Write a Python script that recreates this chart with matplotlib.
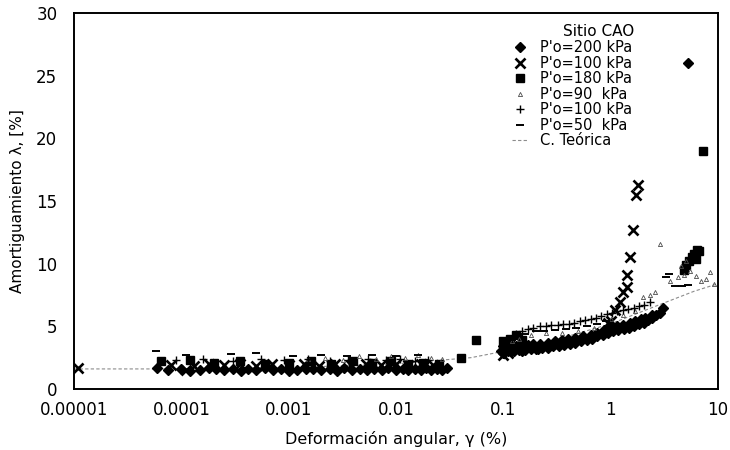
import matplotlib.pyplot as plt
from matplotlib.ticker import NullLocator

plt.rcParams['font.family'] = 'DejaVu Sans'

# Sitio CAO: damping ratio vs. shear strain, several confining pressures
x_200 = [5.9e-5, 7.5e-5, 1.0e-4, 1.2e-4, 1.5e-4, 1.8e-4, 2.1e-4, 2.5e-4, 3.0e-4, 3.6e-4,
         4.2e-4, 5.0e-4, 6.0e-4, 7.2e-4, 8.5e-4, 1.0e-3, 1.2e-3, 1.45e-3, 1.7e-3, 2.0e-3,
         2.4e-3, 2.8e-3, 3.3e-3, 3.9e-3, 4.6e-3, 5.4e-3, 6.3e-3, 7.4e-3, 8.5e-3, 0.01,
         0.0115, 0.013, 0.015, 0.017, 0.019, 0.021, 0.024, 0.027, 0.03,
         0.095, 0.1, 0.11, 0.12, 0.125, 0.14, 0.15, 0.16, 0.18, 0.2, 0.21, 0.23, 0.26,
         0.29, 0.33, 0.37, 0.42, 0.47, 0.53, 0.6, 0.67, 0.75, 0.84, 0.94, 1.05, 1.18,
         1.32, 1.48, 1.65, 1.85, 2.05, 2.25, 2.45, 2.65, 2.85, 3.1,
         0.1, 0.115, 0.13, 0.15, 0.17, 0.19, 0.22, 0.26, 0.3, 0.35, 0.4, 0.47, 0.55, 0.65,
         0.75, 0.87, 1.0, 1.15, 1.3, 1.5, 1.7, 1.9, 2.1, 2.4, 5.3]
y_200 = [1.7, 1.5, 1.6, 1.4, 1.5, 1.7, 1.6, 1.5, 1.6, 1.4,
         1.6, 1.5, 1.7, 1.5, 1.6, 1.4, 1.5, 1.6, 1.6, 1.5,
         1.6, 1.4, 1.7, 1.5, 1.6, 1.5, 1.6, 1.5, 1.7, 1.5,
         1.6, 1.5, 1.6, 1.5, 1.7, 1.5, 1.6, 1.5, 1.7,
         3.0, 2.9, 3.0, 3.0, 3.0, 3.1, 3.0, 3.1, 3.2, 3.2, 3.2, 3.3, 3.3,
         3.4, 3.4, 3.5, 3.6, 3.7, 3.8, 3.9, 4.0, 4.2, 4.3, 4.5, 4.6, 4.7,
         4.8, 4.9, 5.0, 5.2, 5.3, 5.5, 5.7, 5.9, 6.1, 6.5,
         3.4, 3.4, 3.4, 3.5, 3.5, 3.6, 3.6, 3.7, 3.8, 3.9, 4.0, 4.1, 4.2, 4.3,
         4.5, 4.7, 4.9, 5.0, 5.1, 5.3, 5.4, 5.6, 5.7, 5.9, 26.0]

x_100a = [1.1e-5, 8.0e-5, 1.1e-4, 1.3e-4, 1.8e-4, 2.5e-4, 3.5e-4, 5.0e-4, 7.0e-4, 1.0e-3,
          1.4e-3, 1.9e-3, 2.7e-3, 3.8e-3, 5.2e-3, 7.2e-3, 0.01, 0.013, 0.017, 0.022,
          0.1, 0.105, 0.11, 0.95,
          1.01, 1.10, 1.22, 1.31, 1.42, 1.42, 1.52, 1.62, 1.72, 1.80]
y_100a = [1.7, 1.9, 1.5, 1.8, 2.0, 1.9, 2.0, 1.8, 2.0, 1.9,
          2.0, 1.8, 2.0, 1.9, 2.0, 1.9, 2.0, 1.9, 2.0, 1.9,
          2.7, 3.1, 2.9, 5.3,
          5.4, 6.3, 6.9, 7.7, 8.1, 9.1, 10.5, 12.7, 15.5, 16.3]

x_180 = [6.5e-5, 1.2e-4, 2.0e-4, 3.5e-4, 6.0e-4, 1.0e-3, 1.6e-3, 2.5e-3, 4.0e-3, 6.0e-3,
         9.0e-3, 0.013, 0.018, 0.025, 0.04, 0.056,
         0.1, 0.115, 0.13, 0.15,
         4.8, 5.0, 5.4, 5.7, 6.0, 6.2, 6.4, 6.6, 7.2]
y_180 = [2.2, 2.3, 2.1, 2.2, 2.0, 2.1, 2.2, 2.0, 2.2, 2.1,
         2.2, 2.0, 2.1, 2.0, 2.5, 3.9,
         3.8, 4.0, 4.3, 3.9,
         9.5, 9.9, 10.2, 10.5, 10.8, 10.4, 11.1, 11.0, 19.0]

x_90 = [1.5e-3, 2.2e-3, 3.2e-3, 4.5e-3, 6.5e-3, 9.0e-3, 0.012, 0.016, 0.021, 0.027,
        0.12, 0.14, 0.18, 0.25, 0.35, 0.5, 0.7, 1.0, 1.3, 1.7,
        2.0, 2.3, 2.6, 2.9, 3.6, 4.2, 4.5, 4.8, 5.0, 5.5, 6.3, 7.0, 7.8, 8.5, 9.2]
y_90 = [2.4, 2.5, 2.3, 2.6, 2.4, 2.6, 2.5, 2.7, 2.5, 2.4,
        3.8, 4.0, 4.3, 4.5, 4.5, 4.6, 4.9, 5.6, 5.9, 6.2,
        7.3, 7.5, 7.7, 11.6, 8.6, 8.9, 9.8, 9.1, 10.2, 9.4, 9.0, 8.6, 8.8, 9.3, 8.4]

x_100b = [9.0e-5, 1.6e-4, 3.0e-4, 5.5e-4, 9.0e-4, 1.5e-3, 2.4e-3, 3.6e-3, 5.5e-3, 8.0e-3,
          0.011, 0.015, 0.02,
          0.13, 0.15, 0.17, 0.19, 0.22, 0.25, 0.28, 0.32, 0.36, 0.41, 0.46, 0.52, 0.58,
          0.65, 0.73, 0.82, 0.92, 1.03, 1.15, 1.3, 1.45, 1.65, 1.85, 2.05, 2.3]
y_100b = [2.3, 2.4, 2.2, 2.4, 2.3, 2.4, 2.2, 2.3, 2.4, 2.3,
          2.4, 2.2, 2.3,
          4.4, 4.6, 4.8, 4.9, 5.0, 5.0, 5.1, 5.1, 5.2, 5.2, 5.3, 5.4, 5.5,
          5.6, 5.7, 5.8, 6.0, 6.1, 6.2, 6.3, 6.4, 6.5, 6.6, 6.7, 6.9]

x_50 = [5.8e-5, 1.1e-4, 2.9e-4, 5.0e-4, 1.1e-3, 2.0e-3, 3.5e-3, 6.0e-3, 0.01, 0.016,
        0.12, 0.14, 0.16, 0.2, 0.24, 0.3, 0.38, 0.48, 0.6, 0.75, 0.9,
        3.3, 3.5, 4.0, 4.6, 5.2]
y_50 = [3.0, 2.7, 2.8, 2.9, 2.6, 2.7, 2.6, 2.7, 2.6, 2.7,
        3.9, 4.2, 4.4, 4.6, 4.6, 4.7, 4.8, 4.9, 5.0, 5.2, 5.4,
        8.9, 9.2, 8.2, 8.2, 8.3]

x_teo = [1e-5, 1e-4, 1e-3, 1e-2, 0.05, 0.1, 0.3, 1.0, 3.0, 6.0, 10.0]
y_teo = [1.6, 1.6, 1.7, 2.0, 2.5, 3.0, 3.9, 5.2, 6.8, 7.8, 8.4]

x_ticks = [1e-5, 1e-4, 1e-3, 1e-2, 0.1, 1, 10]
x_tick_labels = ['0.00001', '0.0001', '0.001', '0.01', '0.1', '1', '10']
y_ticks = [0, 5, 10, 15, 20, 25, 30]

fig = plt.figure(figsize=(7.3, 4.5), dpi=100)
ax = fig.add_axes([0.1014, 0.1356, 0.8822, 0.8356])

ax.plot(x_teo, y_teo, ls=(0, (3, 2)), lw=0.8, color='0.55', label='C. Teórica', zorder=1)
ax.plot(x_200, y_200, ls='none', marker='D', ms=5.5, color='black', label="P'o=200 kPa", zorder=3)
ax.plot(x_100a, y_100a, ls='none', marker='x', ms=7, mew=1.9, color='black', label="P'o=100 kPa", zorder=3)
ax.plot(x_180, y_180, ls='none', marker='s', ms=5.5, color='black', label="P'o=180 kPa", zorder=3)
ax.plot(x_90, y_90, ls='none', marker='^', ms=3, mfc='none', mew=0.6, color='0.3', label="P'o=90  kPa", zorder=3)
ax.plot(x_100b, y_100b, ls='none', marker='+', ms=6, mew=1.0, color='black', label="P'o=100 kPa", zorder=3)
ax.plot(x_50, y_50, ls='none', marker='_', ms=6, mew=1.4, color='black', label="P'o=50  kPa", zorder=3)

ax.set_xscale('log')
ax.set_xlim(1e-5, 10)
ax.set_ylim(0, 30)
ax.set_xticks(x_ticks)
ax.set_xticklabels(x_tick_labels)
ax.xaxis.set_minor_locator(NullLocator())
ax.set_yticks(y_ticks)
ax.tick_params(axis='both', length=0, labelsize=12)
ax.tick_params(axis='x', pad=9)
ax.tick_params(axis='y', pad=12)
for s in ax.spines.values():
    s.set_linewidth(1.4)
    s.set_color('black')

ax.set_xlabel('Deformación angular, γ (%)', fontsize=11.5, labelpad=8)
ax.set_ylabel('Amortiguamiento λ, [%]', fontsize=11, labelpad=8)

# legend order: data series first, theoretical curve last
h, l = ax.get_legend_handles_labels()
order = [1, 2, 3, 4, 5, 6, 0]
ax.legend([h[i] for i in order], [l[i] for i in order],
          loc='upper left', bbox_to_anchor=(0.665, 0.954), frameon=False,
          fontsize=10.5, labelspacing=0.03,
          handlelength=1.0, handletextpad=0.9, borderpad=0.2)
ax.text(0.815, 0.952, 'Sitio CAO', transform=ax.transAxes, fontsize=11,
        ha='center', va='center')

fig.savefig('out.png', dpi=100)
